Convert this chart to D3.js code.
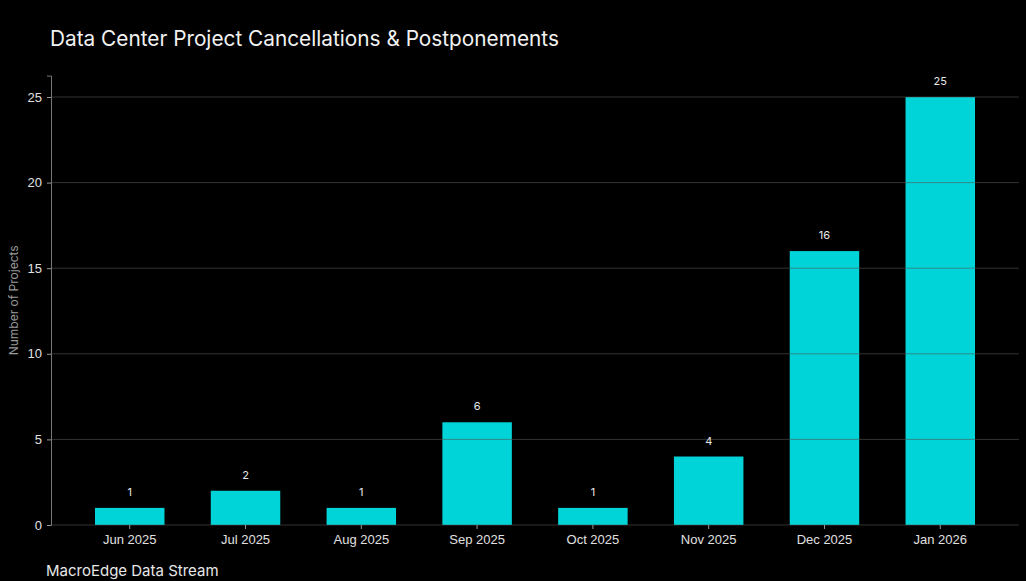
<!DOCTYPE html>
<html>
<head>
<meta charset="utf-8">
<script src="https://cdn.jsdelivr.net/npm/d3@7"></script>
<style>
  html, body { margin: 0; padding: 0; background: #000; }
  svg { display: block; font-family: Inter, "Noto Sans", sans-serif; }
</style>
</head>
<body>
<svg id="chart"></svg>
<script>
const months = ['Jun 2025', 'Jul 2025', 'Aug 2025', 'Sep 2025', 'Oct 2025', 'Nov 2025', 'Dec 2025', 'Jan 2026'];
const projects = [1, 2, 1, 6, 1, 4, 16, 25];
const yTicks = [0, 5, 10, 15, 20, 25];

const width = 1026;
const height = 581;
const margin = { top: 75.6, right: 7, bottom: 56, left: 51 };

const svg = d3.select('#chart')
  .attr('width', width)
  .attr('height', height);

svg.append('rect')
  .attr('width', width)
  .attr('height', height)
  .attr('fill', '#000');

const x = d3.scaleBand()
  .domain(months)
  .range([margin.left, width - margin.right])
  .paddingInner(0.4)
  .paddingOuter(0.38);

const y = d3.scaleLinear()
  .domain([0, 26.25])
  .range([height - margin.bottom, margin.top]);

// bars
svg.append('g')
  .selectAll('rect')
  .data(projects)
  .enter().append('rect')
  .attr('x', (d, i) => x(months[i]))
  .attr('y', d => y(d))
  .attr('width', x.bandwidth())
  .attr('height', d => y(0) - y(d))
  .attr('fill', '#00d4d8');

// gridlines drawn over the bars
svg.append('g')
  .selectAll('line')
  .data(yTicks)
  .enter().append('line')
  .attr('x1', margin.left)
  .attr('x2', width - margin.right)
  .attr('y1', d => y(d))
  .attr('y2', d => y(d))
  .attr('stroke', '#555')
  .attr('stroke-opacity', 0.6)
  .attr('stroke-width', 1);

// value labels
svg.append('g')
  .selectAll('text')
  .data(projects)
  .enter().append('text')
  .attr('x', (d, i) => x(months[i]) + x.bandwidth() / 2)
  .attr('y', d => y(d) - 12)
  .attr('text-anchor', 'middle')
  .attr('fill', '#e8e8e8')
  .attr('font-size', 11)
  .text(d => d);

// y axis
const yAxis = svg.append('g')
  .attr('transform', `translate(${margin.left},0)`)
  .call(d3.axisLeft(y).tickValues(yTicks).tickSize(4).tickPadding(5));
yAxis.select('.domain').attr('stroke', '#777');
yAxis.selectAll('.tick line').attr('stroke', '#999');
yAxis.selectAll('.tick text').attr('fill', '#e0e0e0').attr('font-size', 13);

// x axis
const xAxis = svg.append('g')
  .attr('transform', `translate(0,${y(0)})`)
  .call(d3.axisBottom(x).tickSize(4).tickPadding(6));
xAxis.select('.domain').remove();
xAxis.selectAll('.tick line').attr('stroke', '#999');
xAxis.selectAll('.tick text').attr('fill', '#e0e0e0').attr('font-size', 13);

// y label
svg.append('text')
  .attr('transform', `translate(18,${(y(0) + margin.top) / 2}) rotate(-90)`)
  .attr('text-anchor', 'middle')
  .attr('fill', '#9a9a9a')
  .attr('font-size', 12)
  .text('Number of Projects');

// title
svg.append('text')
  .attr('x', 50)
  .attr('y', 46)
  .attr('fill', '#f2f2f2')
  .attr('font-size', 20.8)
  .text('Data Center Project Cancellations & Postponements');

// footer
svg.append('text')
  .attr('x', 46)
  .attr('y', 576)
  .attr('fill', '#e8e8e8')
  .attr('font-size', 15)
  .text('MacroEdge Data Stream');
</script>
</body>
</html>
